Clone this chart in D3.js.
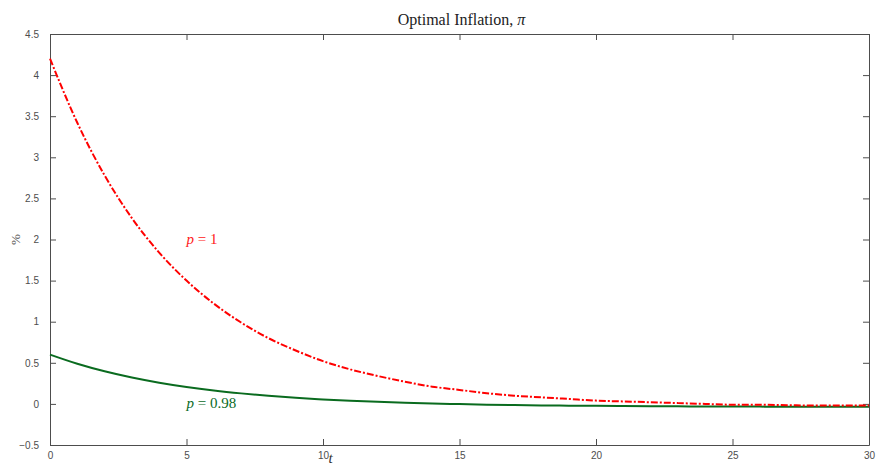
<!DOCTYPE html>
<html>
<head>
<meta charset="utf-8">
<script src="https://cdn.jsdelivr.net/npm/d3@7"></script>
<style>
  body { margin: 0; background: #fff; }
  .tick text { font-family: "Liberation Sans", Arial, sans-serif; font-size: 10px; fill: #4d4d4d; }
  .domain, .tick line { stroke: #4d4d4d; }
</style>
</head>
<body>
<script>
// Set up chart
var svgWidth = 876;
var svgHeight = 465;
var margin = { top: 34, right: 7, bottom: 20, left: 50 };
var width = svgWidth - margin.left - margin.right;
var height = svgHeight - margin.top - margin.bottom;

// data
var periods = d3.range(0, 31);
var inflationP1 = [4.20, 3.42, 2.78, 2.26, 1.84, 1.50, 1.22, 0.99, 0.80, 0.65,
                   0.52, 0.42, 0.34, 0.27, 0.21, 0.17, 0.13, 0.10, 0.08, 0.06,
                   0.04, 0.03, 0.02, 0.01, 0.00, -0.01, -0.01, -0.015, -0.02, -0.02, -0.02];
var inflationP098 = [0.600, 0.489, 0.397, 0.321, 0.258, 0.206, 0.163, 0.128, 0.099, 0.074,
                     0.055, 0.038, 0.025, 0.014, 0.005, -0.002, -0.009, -0.014, -0.018, -0.021,
                     -0.024, -0.026, -0.028, -0.030, -0.031, -0.032, -0.033, -0.034, -0.034, -0.035, -0.035];
var xTicks = [0, 5, 10, 15, 20, 25, 30];
var yTicks = [-0.5, 0, 0.5, 1, 1.5, 2, 2.5, 3, 3.5, 4, 4.5];

var svg = d3.select("body")
    .append("svg")
    .attr("width", svgWidth)
    .attr("height", svgHeight);

var chartGroup = svg.append("g")
    .attr("transform", `translate(${margin.left}, ${margin.top})`);

var xScale = d3.scaleLinear().domain([0, 30]).range([0, width]);
var yScale = d3.scaleLinear().domain([-0.5, 4.5]).range([height, 0]);

// box axes, ticks pointing in
chartGroup.append("g")
    .attr("transform", `translate(0,${height})`)
    .call(d3.axisBottom(xScale).tickValues(xTicks).tickSizeInner(-6).tickSizeOuter(0).tickPadding(7));
chartGroup.append("g")
    .call(d3.axisTop(xScale).tickValues(xTicks).tickSizeInner(-6).tickSizeOuter(0).tickFormat(""));
chartGroup.append("g")
    .call(d3.axisLeft(yScale).tickValues(yTicks).tickFormat(d3.format("~g"))
        .tickSizeInner(-6).tickSizeOuter(0).tickPadding(11));
chartGroup.append("g")
    .attr("transform", `translate(${width},0)`)
    .call(d3.axisRight(yScale).tickValues(yTicks).tickSizeInner(-6).tickSizeOuter(0).tickFormat(""));

var line = d3.line()
    .x(function(d, i) { return xScale(periods[i]); })
    .y(function(d) { return yScale(d); })
    .curve(d3.curveMonotoneX);

chartGroup.append("path")
    .datum(inflationP098)
    .attr("d", line)
    .attr("fill", "none")
    .attr("stroke", "#0a6b1f")
    .attr("stroke-width", 2);

chartGroup.append("path")
    .datum(inflationP1)
    .attr("d", line)
    .attr("fill", "none")
    .attr("stroke", "#ff0000")
    .attr("stroke-width", 2)
    .attr("stroke-dasharray", "7,2,2,2");

// text labels
var serif = "'Liberation Serif', 'DejaVu Serif', serif";

svg.append("text")
    .attr("x", margin.left + width / 2 + 2)
    .attr("y", 25)
    .attr("text-anchor", "middle")
    .style("font-family", serif)
    .style("font-size", "16px")
    .style("fill", "#222")
    .html("Optimal Inflation, <tspan font-style='italic'>π</tspan>");

function curveLabel(txt, xv, yv, color) {
    var t = chartGroup.append("text")
        .attr("x", xScale(xv))
        .attr("y", yScale(yv))
        .style("font-family", serif)
        .style("font-size", "15px")
        .style("fill", color);
    t.append("tspan").style("font-style", "italic").text("p");
    t.append("tspan").text(" = " + txt);
}
curveLabel("1", 5, 1.95, "#ff2020");
curveLabel("0.98", 5, -0.05, "#0a6b1f");

svg.append("text")
    .attr("transform", `translate(20, ${margin.top + yScale(2)}) rotate(-90)`)
    .attr("text-anchor", "middle")
    .style("font-family", serif)
    .style("font-size", "13px")
    .style("fill", "#555")
    .text("%");

svg.append("text")
    .attr("x", margin.left + xScale(10.2))
    .attr("y", 463)
    .style("font-family", serif)
    .style("font-style", "italic")
    .style("font-size", "15px")
    .style("fill", "#333")
    .text("t");
</script>
</body>
</html>
